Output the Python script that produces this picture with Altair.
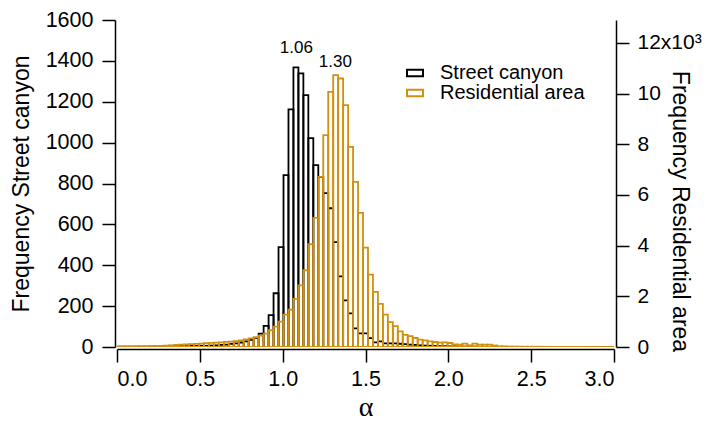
import altair as alt
import pandas as pd

BIN_WIDTH = 0.03
FIRST_BIN_START = -0.015

series_names = ["Street canyon", "Residential area"]
series_colors = ["#000000", "#d38f0f"]

# counts per 0.03-wide alpha bin (bins centred on multiples of 0.03)
street_canyon = [
    0,
    0, 0, 0, 1, 1, 1, 2, 2, 2, 3,
    3, 3, 4, 4, 5, 5, 6, 6, 7, 8,
    10, 12, 15, 18, 22, 28, 35, 45, 65, 103,
    156, 263, 489, 841, 1163, 1368, 1339, 1232, 1022, 890,
    831, 753, 679, 513, 346, 228, 165, 91, 67, 67,
    43, 23, 28, 18, 18, 18, 16, 14, 12, 10,
    8, 7, 6, 5, 4, 4, 3, 3, 2, 2,
    2, 2, 1, 1, 1, 1, 1, 1, 0, 0,
    0, 0, 0, 0, 0, 0, 0, 0, 0, 0,
    0, 0, 0, 0, 0, 0, 0, 0, 0, 0,
]

residential_area = [
    30,
    30, 30, 30, 30, 30, 30, 30, 30, 40, 55,
    65, 80, 95, 105, 115, 125, 135, 150, 160, 170,
    185, 200, 215, 235, 260, 300, 340, 390, 450, 530,
    660, 800, 1000, 1280, 1470, 1900, 2435, 3028, 4054, 5092,
    6711, 8357, 10066, 10725, 10593, 9540, 7895, 6513, 5289, 3924,
    2858, 2171, 1700, 1280, 980, 820, 620, 480, 430, 355,
    292, 264, 225, 197, 174, 186, 158, 107, 95, 134,
    67, 134, 95, 90, 90, 60, 20, 20, 15, 15,
    12, 10, 10, 8, 8, 6, 6, 5, 5, 4,
    4, 3, 3, 3, 2, 2, 2, 1, 1, 1,
]

annotation_text = ["1.06", "1.30"]
annotation_alpha = [1.083, 1.318]
annotation_level = [1437, 1368]  # in "Frequency Street canyon" units

x_ticks = [0.0, 0.5, 1.0, 1.5, 2.0, 2.5, 3.0]
left_ticks = [0, 200, 400, 600, 800, 1000, 1200, 1400, 1600]
right_ticks = [0, 2000, 4000, 6000, 8000, 10000, 12000]

n = len(street_canyon)
starts = [round(FIRST_BIN_START + i * BIN_WIDTH, 4) for i in range(n)]
ends = [round(FIRST_BIN_START + (i + 1) * BIN_WIDTH, 4) for i in range(n)]

df_sc = pd.DataFrame({"start": starts, "end": ends, "count": street_canyon,
                      "series": series_names[0]})
df_ra = pd.DataFrame({"start": starts, "end": ends, "count": residential_area,
                      "series": series_names[1]})
df_ann = pd.DataFrame({"start": annotation_alpha, "count": annotation_level,
                       "text": annotation_text})

W, H = 497, 327
FONT = "Liberation Sans"

color = alt.Color(
    "series:N",
    scale=alt.Scale(domain=series_names, range=series_colors),
    legend=alt.Legend(
        title=None, orient="none", legendX=288, legendY=43,
        labelFont=FONT, labelFontSize=20, labelColor="black",
        symbolType="M-1,-0.4H1V0.4H-1Z", symbolSize=256,
        symbolStrokeWidth=2, symbolFillColor="transparent",
        labelOffset=15, rowPadding=-4.5, padding=0,
    ),
)

x_enc = alt.X(
    "start:Q",
    scale=alt.Scale(domain=[0, 3], nice=False, zero=False),
    axis=alt.Axis(
        values=x_ticks, format=".1f", tickSize=13, labelPadding=6, offset=2,
        title="α", titleFont="Liberation Serif", titleFontSize=28,
        titleBaseline="alphabetic", titleY=66, titleX=W / 2,
    ),
)

sc = alt.Chart(df_sc).mark_rect(filled=False, strokeWidth=1.8, clip=True).encode(
    x=x_enc,
    x2="end:Q",
    y=alt.Y(
        "count:Q",
        scale=alt.Scale(domain=[0, 1600], nice=False),
        axis=alt.Axis(
            orient="left", values=left_ticks, format="d", tickSize=13,
            labelPadding=9, offset=2, title="Frequency Street canyon",
            titleAngle=270, titleX=-87, titleY=H / 2,
            titleBaseline="alphabetic", titleAlign="center",
        ),
    ),
    y2=alt.datum(0),
    color=color,
)

ann = alt.Chart(df_ann).mark_text(
    font=FONT, fontSize=17, baseline="alphabetic", align="center", color="black"
).encode(
    x=alt.X("start:Q"),
    y=alt.Y("count:Q"),
    text="text:N",
)

ra = alt.Chart(df_ra).mark_rect(filled=False, strokeWidth=1.8, clip=True).encode(
    x=alt.X("start:Q"),
    x2="end:Q",
    y=alt.Y(
        "count:Q",
        scale=alt.Scale(domain=[0, 12900], nice=False),
        axis=alt.Axis(
            orient="right", values=right_ticks, tickSize=13, labelPadding=8,
            offset=2, labelFontSize=21,
            labelExpr="datum.value == 12000 ? '12x10³' : format(datum.value / 1000, 'd')",
            title="Frequency Residential area", titleAngle=90,
            titleX=56, titleY=191, titleBaseline="alphabetic",
            titleAlign="center",
        ),
    ),
    y2=alt.datum(0),
    color=color,
)

chart = (
    alt.layer(alt.layer(sc, ann), ra)
    .resolve_scale(y="independent")
    .properties(
        width=W, height=H,
        autosize=alt.AutoSizeParams(type="none"),
        padding={"left": 109, "top": 12, "right": 89, "bottom": 84},
    )
    .configure_view(stroke=None)
    .configure_axis(
        grid=False, domainColor="black", domainWidth=1.5, tickColor="black",
        tickWidth=1.5, labelFont=FONT, labelFontSize=21.5, labelColor="black",
        titleFont=FONT, titleFontSize=23, titleFontWeight="normal",
        titleColor="black",
    )
)

chart.save("out.html", embed_options={"renderer": "svg", "actions": False})
